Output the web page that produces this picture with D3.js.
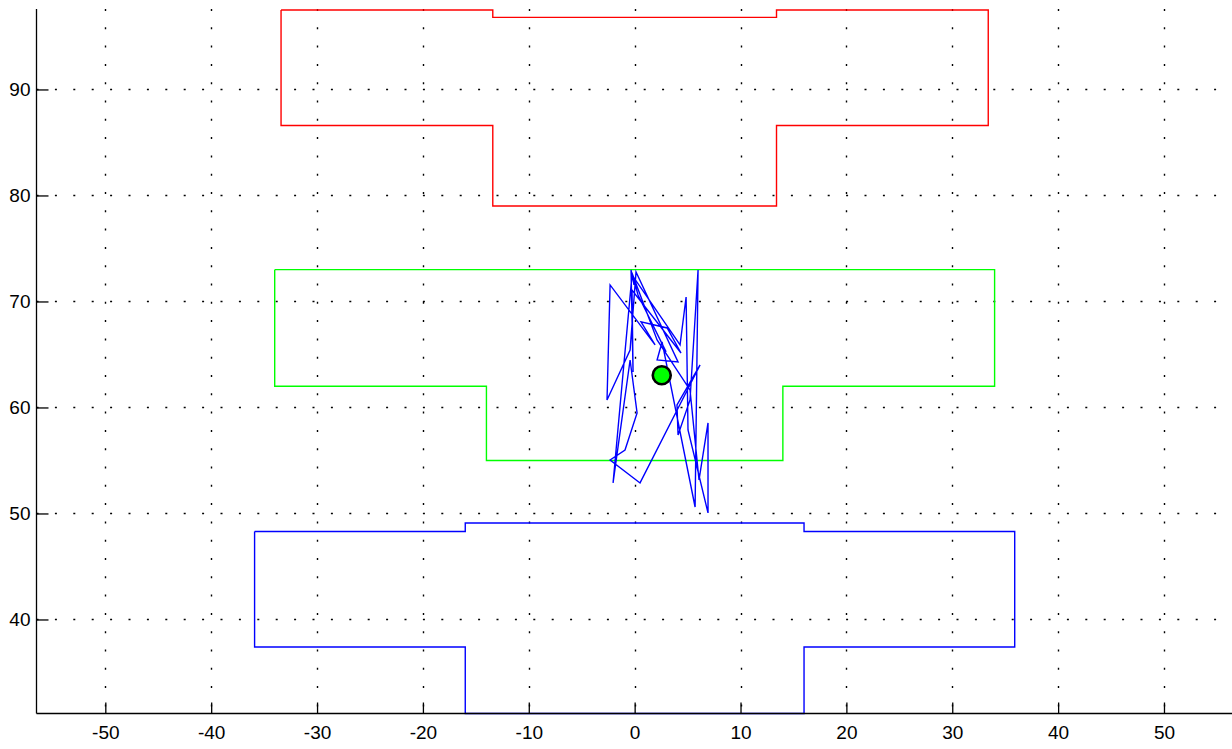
<!DOCTYPE html>
<html>
<head>
<meta charset="utf-8">
<script src="https://cdn.jsdelivr.net/npm/d3@7"></script>
<style>
  html, body { margin: 0; padding: 0; background: #fff; }
  svg { display: block; }
  .tick text { font-family: "Liberation Sans", Arial, sans-serif; font-size: 19px; fill: #000; }
</style>
</head>
<body>
<svg id="chart" width="1232" height="749"></svg>
<script>
// ---- data ----
const xDomain = [-56.5, 56.5];
const yDomain = [31.13, 97.59];
const xTicks = [-50, -40, -30, -20, -10, 0, 10, 20, 30, 40, 50];
const yTicks = [40, 50, 60, 70, 80, 90];

const redPolygon = [
  [-33.4, 97.5], [-13.4, 97.5], [-13.4, 96.8], [13.4, 96.8], [13.4, 97.5], [33.4, 97.5],
  [33.4, 86.6], [13.4, 86.6], [13.4, 79.0], [-13.4, 79.0], [-13.4, 86.6], [-33.4, 86.6], [-33.4, 97.5]
];
const greenPolygon = [
  [-34, 73], [34, 73], [34, 62], [14, 62], [14, 55], [-14, 55], [-14, 62], [-34, 62], [-34, 73]
];
const bluePolygon = [
  [-35.9, 48.3], [-16.0, 48.3], [-16.0, 49.1], [16.0, 49.1], [16.0, 48.3], [35.9, 48.3],
  [35.9, 37.4], [16.0, 37.4], [16.0, 31.13], [-16.0, 31.13], [-16.0, 37.4], [-35.9, 37.4], [-35.9, 48.3]
];
const pathX = [-0.06, -0.34, -0.15, -0.25, 4.38, 3.07, 0.60, 1.93, -2.32, -2.61, -0.43, 0.13, 4.10, 2.12, 2.59, 5.71,
  5.99, 5.23, 4.10, 4.00, 6.18, 0.51, -2.32, -0.91, 0.23, -0.43, -2.04, -0.25, 4.29, 4.86, 5.04, 6.93, 6.93, 6.08,
  5.23, 2.12, -0.25, 0.32, 2.97];
const pathY = [71.56, 72.97, 63.35, 71.08, 65.14, 67.50, 68.07, 65.90, 71.56, 60.71, 65.42, 72.78, 64.29, 64.48, 66.18, 50.61,
  72.97, 60.71, 57.41, 60.24, 64.01, 52.88, 55.05, 55.99, 59.48, 64.48, 52.88, 72.50, 65.90, 70.42, 57.88, 50.05, 58.54, 53.16,
  61.65, 66.37, 72.69, 70.61, 65.24];
const marker = [2.56, 63.04];

// ---- layout ----
const svg = d3.select("#chart");
const padL = 36.5, padR = 1232.8, padT = 9, padB = 713.5;
const x = d3.scaleLinear().domain(xDomain).range([padL, padR]);
const y = d3.scaleLinear().domain(yDomain).range([padB, padT]);

// grid
const grid = svg.append("g");
grid.selectAll("line.vg").data(xTicks).join("line")
  .attr("x1", d => Math.round(x(d)) + 0.5).attr("x2", d => Math.round(x(d)) + 0.5)
  .attr("y1", padT).attr("y2", padB)
  .attr("stroke", "#000").attr("stroke-width", 1.4).attr("stroke-dasharray", "2,16.3");
grid.selectAll("line.hg").data(yTicks).join("line")
  .attr("y1", d => Math.round(y(d)) + 0.5).attr("y2", d => Math.round(y(d)) + 0.5)
  .attr("x1", padL).attr("x2", 1232)
  .attr("stroke", "#000").attr("stroke-width", 1.4).attr("stroke-dasharray", "2,16.4");

const line = d3.line().x(d => x(d[0])).y(d => y(d[1]));

svg.append("path").datum(redPolygon).attr("d", line).attr("fill", "none").attr("stroke", "#ff0000").attr("stroke-width", 1.4);
svg.append("path").datum(greenPolygon).attr("d", line).attr("fill", "none").attr("stroke", "#00ff00").attr("stroke-width", 1.4);
svg.append("path").datum(bluePolygon).attr("d", line).attr("fill", "none").attr("stroke", "#0000ff").attr("stroke-width", 1.4);

const track = pathX.map((v, i) => [v, pathY[i]]);
svg.append("path").datum(track).attr("d", line).attr("fill", "none").attr("stroke", "#0000ff").attr("stroke-width", 1.4);

svg.append("circle").attr("cx", x(marker[0])).attr("cy", y(marker[1])).attr("r", 9)
  .attr("fill", "#00ff00").attr("stroke", "#000").attr("stroke-width", 2.6);

// axes
const xAxis = d3.axisBottom(x).tickValues(xTicks).tickSize(-11).tickPadding(16);
const gx = svg.append("g").attr("transform", `translate(0,${padB})`).call(xAxis);
const yAxis = d3.axisLeft(y).tickValues(yTicks).tickSize(-12).tickPadding(6);
const gy = svg.append("g").attr("transform", `translate(${padL},0)`).call(yAxis);
[gx, gy].forEach(g => {
  g.select(".domain").attr("stroke", "#000").attr("stroke-width", 1.3);
  g.selectAll(".tick line").attr("stroke", "#000").attr("stroke-width", 1.3);
});
gx.select(".domain").attr("d", `M${padL},0H1232`);
gy.select(".domain").attr("d", `M0,${padT}V${padB}`);
gx.selectAll(".tick text").attr("y", 12).attr("dy", "0.71em").text(d => String(d));
gy.selectAll(".tick text").text(d => String(d));
</script>
</body>
</html>
